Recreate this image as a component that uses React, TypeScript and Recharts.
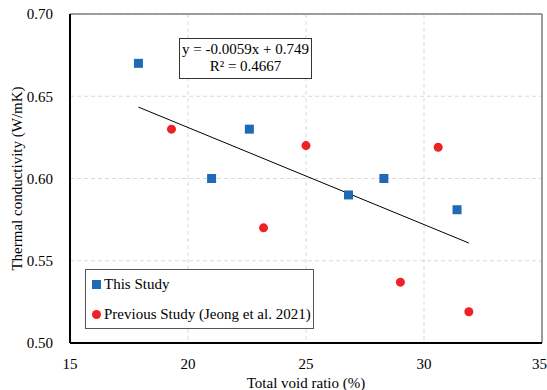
import { ScatterChart, Scatter, XAxis, YAxis, CartesianGrid, ReferenceLine } from 'recharts'

const THIS_X = [17.9, 21.0, 22.6, 26.8, 28.3, 31.4]
const THIS_Y = [0.67, 0.6, 0.63, 0.59, 0.6, 0.581]
const PREV_X = [19.3, 23.2, 25.0, 29.0, 30.6, 31.9]
const PREV_Y = [0.63, 0.57, 0.62, 0.537, 0.619, 0.519]
const X_TICKS = [15, 20, 25, 30, 35]
const Y_TICKS = [0.5, 0.55, 0.6, 0.65, 0.7]
const TREND_X = [17.9, 31.9]
const SLOPE = -0.0059
const INTERCEPT = 0.749

const thisStudy = THIS_X.map((x, i) => ({ x, y: THIS_Y[i] }))
const prevStudy = PREV_X.map((x, i) => ({ x, y: PREV_Y[i] }))
const trend = TREND_X.map((x) => ({ x, y: SLOPE * x + INTERCEPT }))

const BLUE = '#1f6ab4'
const RED = '#ee2224'
const FONT = '"Liberation Serif", "Times New Roman", serif'

const Square = (props: any) => (
  <rect x={props.cx - 4.5} y={props.cy - 4.5} width={9} height={9} fill={BLUE} />
)
const Dot = (props: any) => <circle cx={props.cx} cy={props.cy} r={4.5} fill={RED} />

function LegendBox() {
  return (
    <div
      style={{
        position: 'absolute',
        left: 85,
        top: 269,
        width: 227,
        height: 58,
        border: '1px solid #555',
        background: '#fff',
        fontFamily: FONT,
        fontSize: 15,
        color: '#000',
      }}
    >
      <div style={{ position: 'absolute', left: 6, top: 6, display: 'flex', alignItems: 'center' }}>
        <span style={{ width: 9, height: 9, background: BLUE, display: 'inline-block', marginRight: 3 }} />
        This Study
      </div>
      <div style={{ position: 'absolute', left: 6, top: 36, display: 'flex', alignItems: 'center', whiteSpace: 'nowrap' }}>
        <span
          style={{ width: 9, height: 9, background: RED, borderRadius: '50%', display: 'inline-block', marginRight: 3 }}
        />
        Previous Study (Jeong et al. 2021)
      </div>
    </div>
  )
}

export default function App() {
  const tick = { fontFamily: FONT, fontSize: 15, fill: '#000' }
  return (
    <div style={{ position: 'absolute', left: 0, top: 0, width: 547, height: 390, background: '#fff' }}>
      <ScatterChart width={547} height={390} margin={{ top: 14, right: 5, bottom: 0, left: 0 }}>
        <CartesianGrid stroke="#d9d9d9" strokeDasharray="4 3" />
        <XAxis
          type="number"
          dataKey="x"
          domain={[15, 35]}
          ticks={X_TICKS}
          height={47}
          tick={tick}
          tickLine={false}
          tickMargin={9}
          axisLine={{ stroke: '#000', strokeWidth: 2 }}
          label={{ value: 'Total void ratio (%)', position: 'insideBottom', offset: 2, style: tick }}
        />
        <YAxis
          type="number"
          dataKey="y"
          domain={[0.5, 0.7]}
          ticks={Y_TICKS}
          width={70}
          tick={tick}
          tickLine={false}
          tickMargin={11}
          tickFormatter={(v: number) => v.toFixed(2)}
          axisLine={{ stroke: '#000', strokeWidth: 2 }}
          label={{ value: 'Thermal conductivity (W/mK)', angle: -90, position: 'center', dx: -18, style: tick }}
        />
        <ReferenceLine y={0.7} stroke="#7f7f7f" strokeWidth={1.5} />
        <ReferenceLine x={35} stroke="#7f7f7f" strokeWidth={1.5} />
        <ReferenceLine
          segment={[trend[0], trend[1]]}
          stroke="#000"
          strokeWidth={1}
          ifOverflow="visible"
        />
        <Scatter name="This Study" data={thisStudy} shape={Square} isAnimationActive={false} />
        <Scatter name="Previous Study (Jeong et al. 2021)" data={prevStudy} shape={Dot} isAnimationActive={false} />
      </ScatterChart>
      <LegendBox />
      <div
        style={{
          position: 'absolute',
          left: 179,
          top: 38,
          width: 131,
          height: 37,
          border: '1px solid #333',
          background: '#fff',
          fontFamily: FONT,
          fontSize: 15,
          lineHeight: '17px',
          textAlign: 'center',
          color: '#000',
          paddingTop: 2,
          boxSizing: 'content-box',
        }}
      >
        <div>y = -0.0059x + 0.749</div>
        <div>R² = 0.4667</div>
      </div>
    </div>
  )
}
